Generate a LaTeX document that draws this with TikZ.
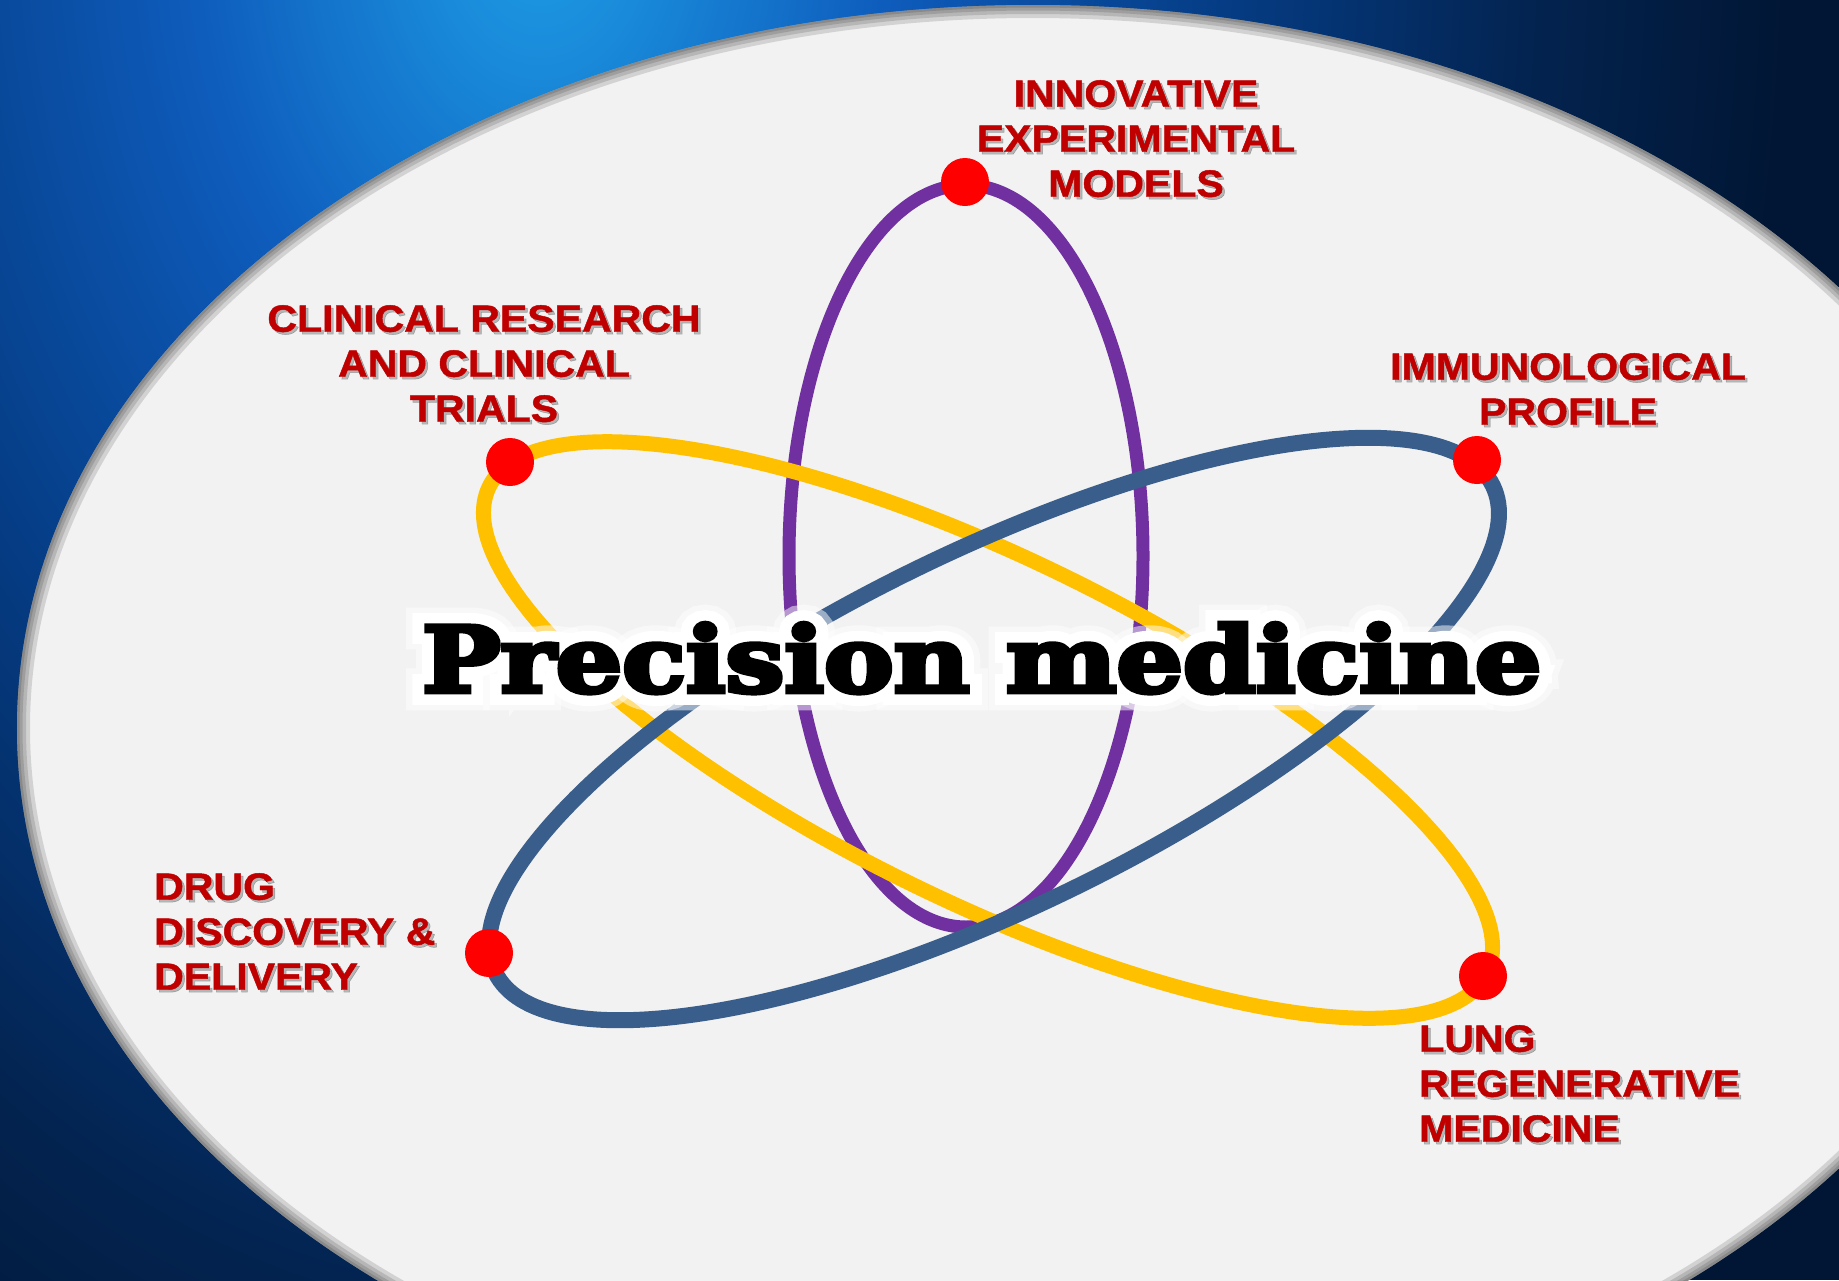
\documentclass[tikz,border=0pt]{standalone}
\usepackage{fontspec}
\usepackage{graphicx}
\newfontfamily\lblfont{Liberation Sans}[FakeStretch=1.08,BoldFeatures={FakeBold=1.2}]
\newfontfamily\ttlfont{DejaVu Serif}[BoldFeatures={FakeBold=5}]
\newfontfamily\ttlglowfont{DejaVu Serif}[BoldFeatures={FakeBold=28}]
\newfontfamily\ttlhalofont{DejaVu Serif}[BoldFeatures={FakeBold=40}]
\definecolor{labelred}{HTML}{C00000}
\definecolor{dotred}{HTML}{FF0000}
\definecolor{orbpurple}{HTML}{7030A0}
\definecolor{orbyellow}{HTML}{FFC000}
\definecolor{orbblue}{HTML}{3A5E8B}
\definecolor{lightbg}{HTML}{F2F2F2}
\definecolor{bgA}{HTML}{1E9EE6}
\definecolor{bgB}{HTML}{0E5CBC}
\definecolor{bgC}{HTML}{053C84}
\definecolor{bgD}{HTML}{03234F}
\definecolor{bgE}{HTML}{011634}
\pgfdeclareradialshading{bgshade}{\pgfpoint{0bp}{0bp}}{color(0bp)=(bgA); color(7bp)=(bgB); color(13.75bp)=(bgC); color(20bp)=(bgD); color(25bp)=(bgE); color(50bp)=(bgE)}
\newcommand{\PMtitle}[1]{\resizebox{1119pt}{69pt}{#1\bfseries Precision medicine}}
\begin{document}
\begin{tikzpicture}[x=1pt,y=-1pt,
  lbl/.style={text=labelred,font=\lblfont\bfseries\fontsize{38pt}{45pt}\selectfont,inner sep=0pt},
  lblshadow/.style={lbl,text=black,opacity=0.25},
  orbit/.style={draw=#1},
  dotnode/.style={circle,fill=dotred,minimum size=48pt,inner sep=0pt},
  ttl/.style={inner sep=0pt,anchor=base west,text=black}]
\useasboundingbox (0,0) rectangle (1839,1280);
\begin{scope}
\clip (0,0) rectangle (1839,1280);
% background
\fill[bgE] (0,0) rectangle (1839,1280);
\shade[shading=bgshade] (540,-80) ellipse [x radius=1250, y radius=1750];
% light oval
\fill[lightbg] (1033,728) ellipse [x radius=1016, y radius=723];
\begin{scope}
\clip (1033,728) ellipse [x radius=1016, y radius=723];
\foreach \w in {26,18,11,5}{
  \draw[black,opacity=0.13,line width=\w pt] (1033,728) ellipse [x radius=1016, y radius=723];
}
\end{scope}
% orbits
\draw[orbit=orbpurple,line width=13pt] (966,556) ellipse [x radius=177, y radius=371];
\draw[orbit=orbyellow,line width=15pt,rotate around={-26:(988,730)}] (988,730) ellipse [x radius=555, y radius=172];
\draw[orbit=orbblue,line width=16pt,rotate around={26:(994,729)}] (994,729) ellipse [x radius=555, y radius=178];
% title with white glow
\node[ttl,text=white,opacity=0.5] (halo) at (422,692) {\PMtitle{\ttlhalofont}};
\node[ttl,text=white] (glow) at (422,692) {\PMtitle{\ttlglowfont}};
\node[ttl] (title) at (422,692) {\PMtitle{\ttlfont}};
% dots
\node[dotnode] (dtop) at (965,182) {};
\node[dotnode] (dclin) at (510,462) {};
\node[dotnode] (dimm) at (1477,460) {};
\node[dotnode] (ddrug) at (489,953) {};
\node[dotnode] (dlung) at (1483,976) {};
% labels (shadows)
\node[lblshadow,align=center,anchor=north] (s1) at (1138.5,82.5) {INNOVATIVE\\EXPERIMENTAL\\MODELS};
\node[lblshadow,align=center,anchor=north] (s2) at (486.5,307.5) {CLINICAL RESEARCH\\AND CLINICAL\\TRIALS};
\node[lblshadow,align=center,anchor=north] (s3) at (1570.5,355.5) {IMMUNOLOGICAL\\PROFILE};
\node[lblshadow,align=left,anchor=north west] (s4) at (156.5,875.5) {DRUG\\DISCOVERY \&\\DELIVERY};
\node[lblshadow,align=left,anchor=north west] (s5) at (1421.5,1027.5) {LUNG\\REGENERATIVE\\MEDICINE};
% labels
\node[lbl,align=center,anchor=north] (l1) at (1136,80) {INNOVATIVE\\EXPERIMENTAL\\MODELS};
\node[lbl,align=center,anchor=north] (l2) at (484,305) {CLINICAL RESEARCH\\AND CLINICAL\\TRIALS};
\node[lbl,align=center,anchor=north] (l3) at (1568,353) {IMMUNOLOGICAL\\PROFILE};
\node[lbl,align=left,anchor=north west] (l4) at (154,873) {DRUG\\DISCOVERY \&\\DELIVERY};
\node[lbl,align=left,anchor=north west] (l5) at (1419,1025) {LUNG\\REGENERATIVE\\MEDICINE};
\end{scope}
\end{tikzpicture}
\end{document}
